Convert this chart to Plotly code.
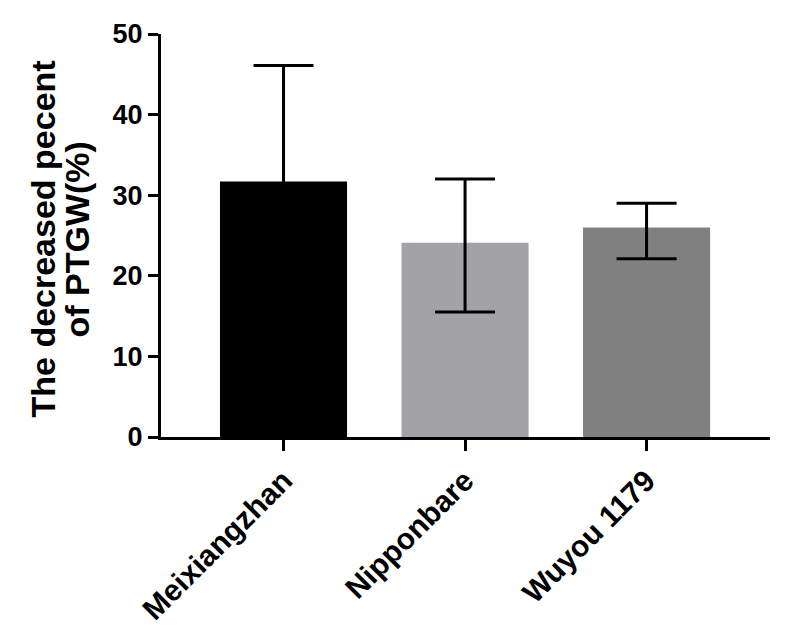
import plotly.graph_objects as go

categories = ["Meixiangzhan", "Nipponbare", "Wuyou 1179"]
values = [31.7, 24.1, 26.0]
err_plus = [14.4, 7.9, 3.0]
err_minus = [14.4, 8.6, 3.9]
bar_colors = ["#000000", "#a3a2a6", "#808080"]
y_ticks = [0, 10, 20, 30, 40, 50]
y_title_lines = ["The decreased pecent", "of PTGW(%)"]

FONT = "Arial, Liberation Sans, sans-serif"

fig = go.Figure()
fig.add_trace(go.Bar(
    x=categories,
    y=values,
    width=0.7,
    marker=dict(color=bar_colors, line=dict(width=0)),
    error_y=dict(type="data", symmetric=False, array=err_plus, arrayminus=err_minus,
                 color="black", thickness=3, width=30),
))

fig.update_layout(
    width=795, height=622,
    margin=dict(l=153, r=33, t=26, b=193),
    plot_bgcolor="white", paper_bgcolor="white",
    showlegend=False,
    font=dict(family=FONT, color="black"),
)
fig.update_xaxes(
    range=[-0.675, 2.68],
    automargin=False,
    showline=True, linewidth=3, linecolor="black",
    ticks="outside", ticklen=11, tickwidth=3, tickcolor="black",
    tickangle=-45,
    tickfont=dict(family=FONT, size=30, weight="bold", color="black"),
    showgrid=False, zeroline=False,
)
fig.update_yaxes(
    range=[0, 50],
    automargin=False,
    tickvals=y_ticks,
    showline=True, linewidth=3, linecolor="black",
    ticks="outside", ticklen=10, tickwidth=3, tickcolor="black",
    tickfont=dict(family=FONT, size=27, weight="bold", color="black"),
    showgrid=False, zeroline=False,
)

for line, shift in zip(y_title_lines, [-119, -85]):
    fig.add_annotation(
        text=line, textangle=-90,
        xref="paper", yref="paper", x=0, y=0.5,
        xanchor="center", yanchor="middle",
        xshift=shift, yshift=-4,
        showarrow=False,
        font=dict(family=FONT, size=34, weight="bold", color="black"),
    )

fig.write_html("out.html")
